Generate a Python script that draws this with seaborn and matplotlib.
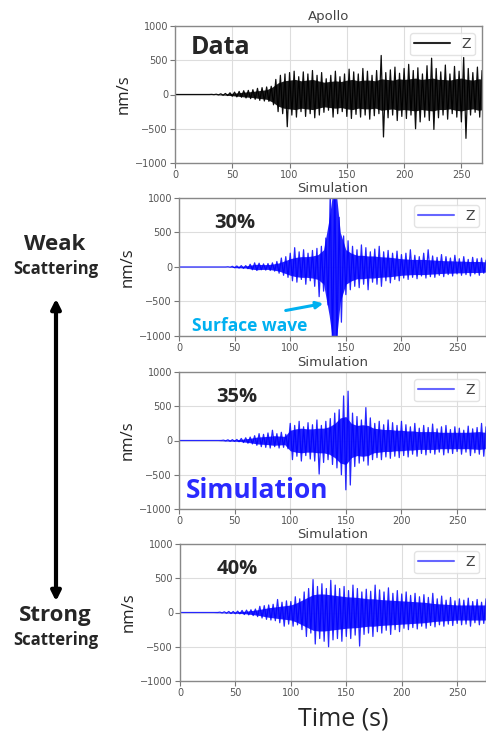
import numpy as np
import pandas as pd
import seaborn as sns
import matplotlib.pyplot as plt
from matplotlib.patches import FancyArrowPatch

# Picos: máximo (t = 0, 4, 8, ...) y mínimo (t = 2, 6, 10, ...) cada 4 s
paso = 4
apollo_max = [0, 0, 0, 0, 0, 0, 0, 0, 2, 4,
              10, 15, 25, 35, 45, 55, 60, 70, 90, 100,
              110, 120, 220, 280, 300, 320, 340, 260, 330, 300,
              350, 280, 320, 230, 280, 340, 260, 300, 370, 330,
              300, 380, 340, 280, 350, 570, 320, 360, 400, 310,
              380, 440, 350, 390, 300, 420, 530, 380, 330, 430,
              300, 410, 340, 540, 380, 320, 400, 350, 380, 300]
apollo_min = [0, 0, 0, 0, 0, 0, 0, 0, -2, -5,
              -10, -15, -25, -35, -40, -50, -60, -70, -85, -95,
              -100, -150, -250, -280, -470, -300, -330, -250, -320, -280,
              -340, -300, -260, -230, -330, -280, -250, -320, -350, -290,
              -330, -300, -360, -310, -280, -620, -340, -300, -380, -320,
              -350, -300, -500, -400, -330, -380, -510, -340, -300, -360,
              -280, -330, -400, -640, -300, -260, -330, -280, -300, -250]

sim30_max = [0, 0, 0, 0, 0, 0, 0, 0, 0, 0,
             0, 3, 10, 15, 20, 20, 40, 60, 55, 45,
             50, 60, 80, 130, 150, 200, 280, 220, 250, 200,
             240, 270, 300, 420, 1100, 1200, 720, 450, 380, 300,
             250, 320, 280, 220, 260, 300, 220, 240, 200, 230,
             180, 200, 250, 170, 150, 200, 250, 160, 140, 180,
             150, 130, 170, 120, 150, 110, 140, 120, 130, 100]
sim30_min = [0, 0, 0, 0, 0, 0, 0, 0, 0, 0,
             0, -3, -10, -15, -20, -25, -40, -50, -40, -45,
             -50, -60, -90, -120, -150, -200, -220, -180, -250, -200,
             -280, -430, -350, -550, -1200, -1100, -800, -400, -330, -280,
             -300, -250, -330, -220, -250, -280, -200, -230, -180, -200,
             -160, -180, -150, -170, -130, -160, -140, -150, -120, -140,
             -110, -130, -100, -120, -110, -130, -100, -120, -90, -110]

sim35_max = [0, 0, 0, 0, 0, 0, 0, 0, 0, 0,
             5, 10, 12, 15, 30, 40, 50, 70, 100, 90,
             110, 150, 100, 120, 90, 250, 220, 280, 200, 260,
             230, 300, 220, 280, 320, 400, 450, 650, 720, 400,
             350, 300, 480, 330, 250, 280, 230, 300, 260, 220,
             280, 230, 200, 250, 180, 220, 190, 240, 170, 200,
             220, 160, 200, 180, 150, 210, 170, 190, 250, 200]
sim35_min = [0, 0, 0, 0, 0, 0, 0, 0, 0, 0,
             -5, -10, -12, -18, -30, -40, -50, -70, -90, -100,
             -110, -90, -110, -100, -120, -280, -230, -300, -220, -270,
             -300, -490, -320, -280, -350, -400, -500, -720, -650, -380,
             -330, -300, -360, -280, -250, -280, -240, -260, -230, -250,
             -220, -240, -200, -230, -190, -210, -180, -200, -170, -210,
             -180, -190, -160, -200, -170, -220, -180, -200, -230, -190]

sim40_max = [0, 0, 0, 0, 0, 0, 0, 0, 0, 5,
             10, 15, 15, 20, 30, 35, 40, 50, 90, 100,
             110, 120, 190, 150, 170, 160, 230, 200, 300, 350,
             480, 380, 420, 350, 470, 400, 350, 380, 320, 400,
             350, 300, 340, 310, 400, 330, 300, 360, 280, 320,
             270, 300, 250, 280, 230, 260, 220, 280, 200, 240,
             180, 220, 170, 200, 180, 210, 160, 190, 150, 200]
sim40_min = [0, 0, 0, 0, 0, 0, 0, 0, 0, -5,
             -10, -15, -18, -20, -30, -35, -45, -60, -80, -100,
             -110, -120, -150, -200, -170, -200, -180, -250, -350, -300,
             -460, -380, -420, -500, -400, -380, -420, -350, -380, -330,
             -490, -320, -300, -350, -280, -300, -260, -320, -250, -280,
             -230, -250, -220, -240, -200, -230, -190, -210, -180, -200,
             -170, -190, -160, -180, -170, -200, -150, -180, -160, -170]

# Amplitud de la parte densa (núcleo) de cada traza, cada 5 s
paso_nucleo = 5
apollo_nucleo = [0, 0, 0, 0, 0, 0, 0, 0, 6, 10,
                 18, 25, 35, 40, 50, 60, 70, 110, 170, 200,
                 210, 220, 200, 210, 220, 200, 180, 190, 200, 190,
                 210, 220, 200, 210, 210, 200, 230, 220, 210, 230,
                 220, 230, 240, 220, 230, 240, 220, 220, 210, 230,
                 240, 220, 210, 230, 220, 210, 210]
sim30_nucleo = [0, 0, 0, 0, 0, 0, 0, 0, 0, 0,
                10, 12, 15, 30, 40, 35, 35, 45, 60, 90,
                120, 140, 150, 150, 160, 180, 250, 700, 1300, 500,
                250, 200, 170, 170, 160, 160, 150, 145, 140, 130,
                120, 115, 110, 110, 110, 105, 100, 95, 90, 90,
                85, 85, 80, 80, 80, 75, 75]
sim35_nucleo = [0, 0, 0, 0, 0, 0, 0, 0, 5, 8,
                10, 15, 25, 35, 50, 55, 60, 70, 65, 60,
                150, 170, 180, 170, 170, 180, 180, 200, 250, 330,
                350, 250, 220, 230, 220, 180, 170, 160, 160, 150,
                150, 140, 140, 130, 130, 130, 130, 120, 120, 120,
                120, 120, 120, 125, 130, 120, 120]
sim40_nucleo = [0, 0, 0, 0, 0, 0, 0, 3, 5, 8,
                10, 15, 20, 30, 40, 55, 70, 80, 90, 100,
                110, 140, 180, 220, 260, 270, 270, 260, 250, 240,
                230, 225, 220, 210, 200, 200, 190, 185, 180, 175,
                170, 165, 160, 155, 150, 140, 130, 125, 120, 115,
                110, 110, 110, 110, 110, 110, 110]

titulos = ["Apollo", "Simulation", "Simulation", "Simulation"]
etiquetas = ["Data", "30%", "35%", "40%"]
ticks_y = [-1000, -500, 0, 500, 1000]
ticks_x = [0, 50, 100, 150, 200, 250]


def traza(picos_max, picos_min):
    # Alternamos máximo y mínimo para dibujar la señal
    t_max = np.arange(len(picos_max)) * paso
    t_min = t_max + paso / 2
    df = pd.DataFrame({"t": np.concatenate([t_max, t_min]),
                       "v": np.concatenate([picos_max, picos_min])})
    return df.sort_values("t")


sns.set_style("whitegrid", {"axes.edgecolor": "#888888", "grid.color": "#dddddd",
                            "xtick.bottom": True, "ytick.left": True})
plt.rcParams["font.family"] = ["DejaVu Sans"]

W, H = 486, 735
fig = plt.figure(figsize=(W / 100, H / 100), dpi=100)

# Cajas de los ejes en píxeles: (izquierda, arriba, derecha, abajo)
cajas = [(175, 26, 482, 163), (179, 198, 486, 336), (179, 372, 486, 509), (180, 544, 486, 681)]
limites_x = [268, 276, 276, 276]
series = [(apollo_max, apollo_min, apollo_nucleo, "black", "#111111", 0.95),
          (sim30_max, sim30_min, sim30_nucleo, "blue", "#1a1aff", 0.85),
          (sim35_max, sim35_min, sim35_nucleo, "blue", "#1a1aff", 0.85),
          (sim40_max, sim40_min, sim40_nucleo, "blue", "#1a1aff", 0.85)]

for caja, xmax, (pmax, pmin, nucleo, color, relleno, alfa), titulo in zip(cajas, limites_x, series, titulos):
    l, t, r, b = caja
    ax = fig.add_axes([l / W, 1 - b / H, (r - l) / W, (b - t) / H])
    tn = np.arange(len(nucleo)) * paso_nucleo
    ax.fill_between(tn, -np.array(nucleo), nucleo, color=relleno, lw=0, alpha=0.95)
    sns.lineplot(data=traza(pmax, pmin), x="t", y="v", ax=ax, color=color, alpha=alfa,
                 lw=0.9, estimator=None, sort=False, label="Z")
    ax.set_xlim(0, xmax)
    ax.set_ylim(-1000, 1000)
    ax.set_xticks(ticks_x)
    ax.set_yticks(ticks_y)
    ax.tick_params(labelsize=7, length=3.5, width=0.8, color="#777777", labelcolor="#555555", pad=1.5)
    ax.set_xlabel("")
    ax.set_ylabel("nm/s", fontsize=12, family="Open Sans", color="#222222", labelpad=3)
    ax.set_title(titulo, fontsize=9.5, color="#444444", pad=4.5)
    leg = ax.legend(loc="upper right", fontsize=10, handlelength=2.6, frameon=True,
                    borderpad=0.3, fancybox=True, labelcolor="#444444")
    leg.get_frame().set_edgecolor("#dddddd")
    for linea in leg.get_lines():
        linea.set_linewidth(1.5)
        linea.set_alpha(0.85 if color == "black" else 0.6)
    for sp in ax.spines.values():
        sp.set_linewidth(1.0)


def px(x, y):
    return x / W, 1 - y / H


# Textos de los paneles
fig.text(*px(191, 47), etiquetas[0], fontsize=18, fontweight="bold", family="Open Sans", va="center")
for etiqueta, (x, y) in zip(etiquetas[1:], [(235, 223), (237, 397), (237, 569)]):
    fig.text(*px(x, y), etiqueta, fontsize=14.5, fontweight="bold", family="Open Sans",
             ha="center", va="center")

fig.text(*px(192, 326), "Surface wave", fontsize=12.5, fontweight="bold", family="Open Sans",
         color="#00b0f0", va="center")
fig.patches.append(FancyArrowPatch(
    px(283, 311), px(326, 303), transform=fig.transFigure, arrowstyle="-|>",
    mutation_scale=10, color="#00b0f0", lw=2.2))

fig.text(*px(186, 491), "Simulation", fontsize=19, fontweight="bold", family="Open Sans",
         color="#2a2aff", va="center")

# Escala de dispersión a la izquierda
fig.text(*px(55, 244), "Weak", fontsize=16, fontweight="bold", family="Open Sans", ha="center", va="center")
fig.text(*px(56, 269), "Scattering", fontsize=12, fontweight="bold", family="Open Sans", ha="center", va="center")
fig.text(*px(55, 615), "Strong", fontsize=16, fontweight="bold", family="Open Sans", ha="center", va="center")
fig.text(*px(56, 640), "Scattering", fontsize=12, fontweight="bold", family="Open Sans", ha="center", va="center")
fig.patches.append(FancyArrowPatch(
    px(56, 296), px(56, 604), transform=fig.transFigure, arrowstyle="<|-|>",
    mutation_scale=14, color="black", lw=3))

fig.text(*px(343, 719), "Time (s)", fontsize=18, family="Open Sans", ha="center", va="center")

fig.savefig("out.png", dpi=100)
